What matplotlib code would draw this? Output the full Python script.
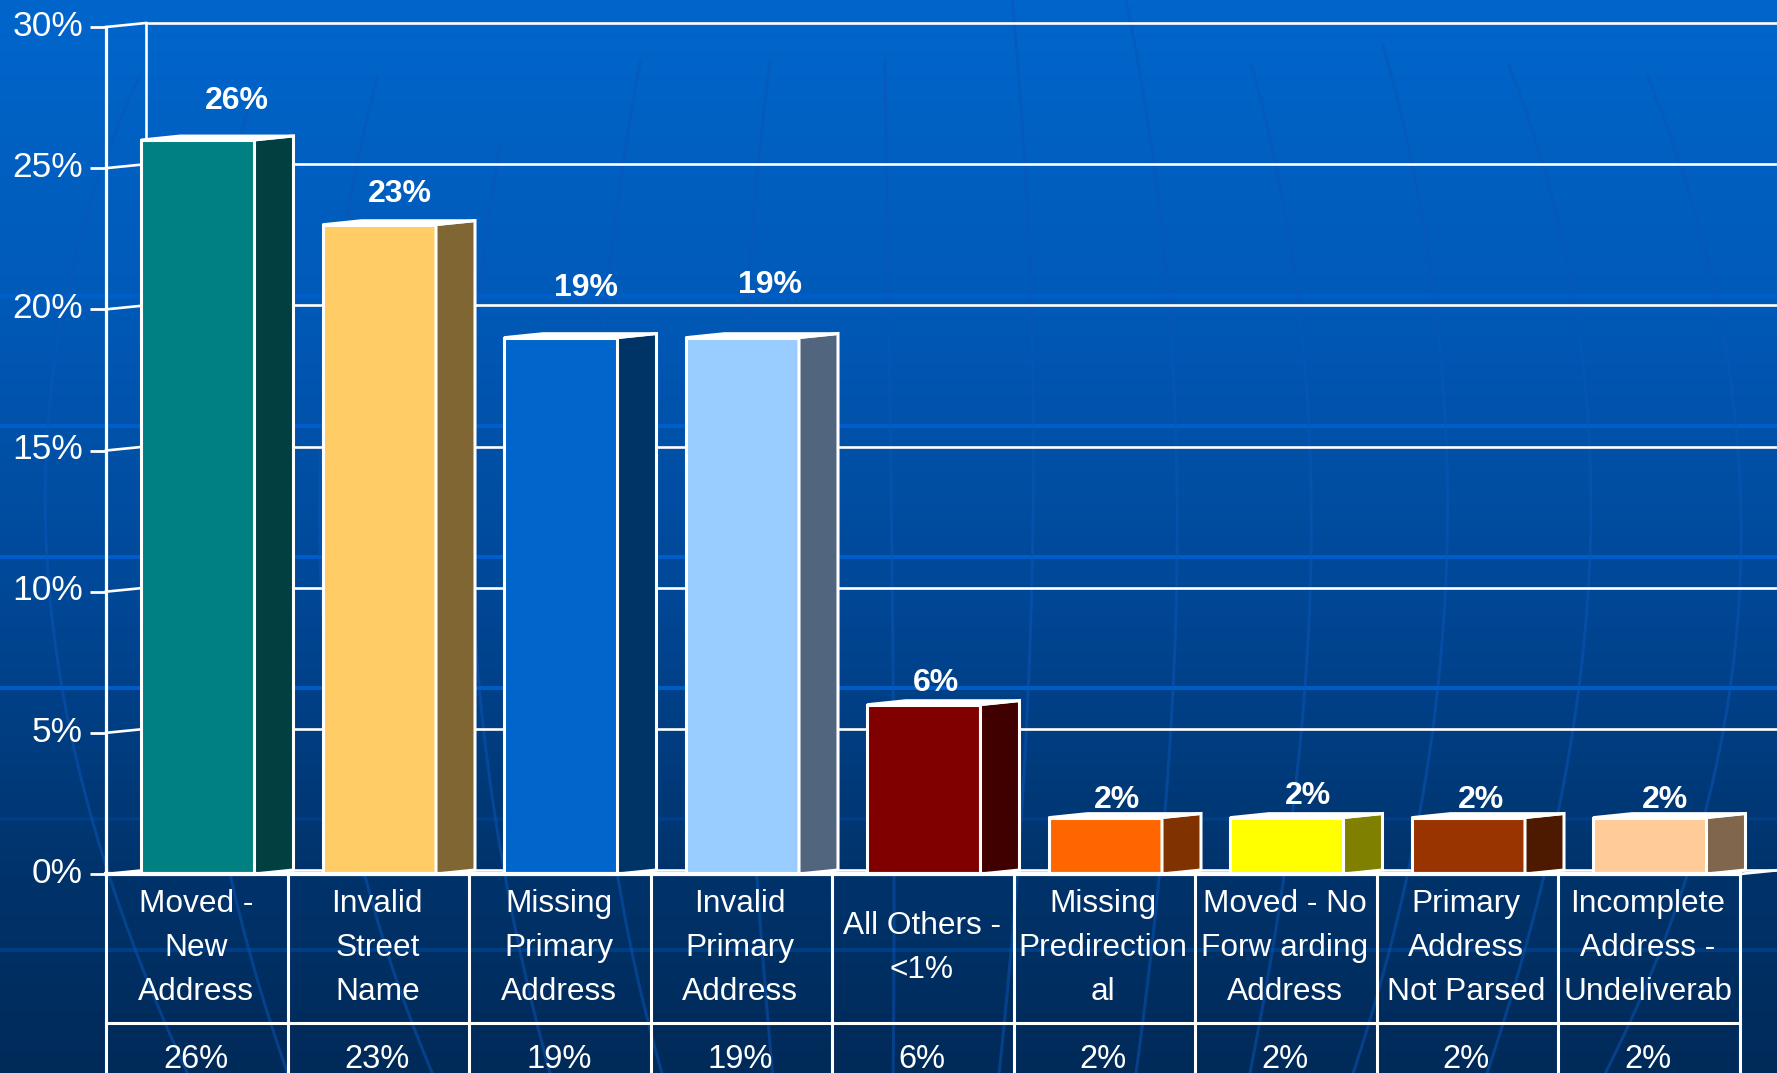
import numpy as np
import matplotlib
matplotlib.use("Agg")
import matplotlib.pyplot as plt
from matplotlib.patches import Polygon
from matplotlib.transforms import ScaledTranslation

W, H = 1777, 1073

categories = [
    "Moved -\nNew\nAddress", "Invalid\nStreet\nName", "Missing\nPrimary\nAddress",
    "Invalid\nPrimary\nAddress", "All Others -\n<1%", "Missing\nPredirection\nal",
    "Moved - No\nForw arding\nAddress", "Primary\nAddress\nNot Parsed",
    "Incomplete\nAddress -\nUndeliverab",
]
values = [26, 23, 19, 19, 6, 2, 2, 2, 2]
front_colors = ["#008080", "#FFCC66", "#0066CC", "#99CCFF", "#800000",
                "#FF6600", "#FFFF00", "#993300", "#FFCC99"]
side_colors = ["#004040", "#806633", "#003366", "#52657F", "#400000",
               "#803300", "#808000", "#4D1A00", "#80664D"]
y_ticks = [0, 5, 10, 15, 20, 25, 30]

# Pixel nudges of the value labels away from each column's top centre
label_dx = [39, 21, 25, 28, 12, 12, 21, 13, 15]
label_dy = [39, 31, 50, 53, 22, 18, 22, 18, 18]

plt.rcParams["font.family"] = ["Liberation Sans", "DejaVu Sans"]
fig = plt.figure(figsize=(W / 100, H / 100), dpi=100)

# Slide backdrop: vertical gradient, horizontal bands, globe meridians
bg = fig.add_axes([0, 0, 1, 1], zorder=0)
bg.set_xlim(0, W)
bg.set_ylim(H, 0)
bg.axis("off")
stops_y = [0, 300, 600, 874, 1073]
stops_g = [0x66, 0x5A, 0x47, 0x33, 0x2A]
stops_b = [0xCC, 0xB8, 0x96, 0x6B, 0x58]
rows = np.arange(H)
grad = np.stack([np.zeros(H), np.interp(rows, stops_y, stops_g), np.interp(rows, stops_y, stops_b)], axis=1) / 255
bg.imshow(grad[:, None, :], extent=[0, W, H, 0], aspect="auto", zorder=0)

bands = [(36, 0.2), (166, 0.3), (296, 0.8), (426, 0.9), (557, 0.9), (688, 0.9), (819, 0.2), (950, 0.3)]
for yb, a in bands:
    bg.axhline(yb, color="#0060D0", alpha=a, lw=2.8, zorder=1)

meridians = [
    [(140, 77), (100, 170), (67, 293), (45, 497), (60, 669), (93, 822), (160, 1019), (190, 1073)],
    [(250, 100), (210, 300), (190, 500), (200, 700), (233, 880), (287, 1073)],
    [(377, 77), (347, 217), (320, 500), (330, 700), (367, 880), (432, 1073)],
    [(500, 143), (483, 267), (470, 500), (490, 780), (543, 1047), (550, 1073)],
    [(640, 60), (600, 400), (590, 700), (625, 880), (660, 1073)],
    [(770, 60), (745, 400), (745, 700), (759, 880), (772, 1073)],
    [(885, 60), (890, 400), (893, 800), (895, 880), (893, 1073)],
    [(1012, 0), (1032, 306), (1032, 510), (1023, 800), (999, 1073)],
    [(1126, 0), (1175, 408), (1177, 535), (1166, 800), (1136, 1073)],
    [(1252, 66), (1298, 306), (1312, 485), (1300, 740), (1250, 1073)],
    [(1383, 46), (1429, 255), (1446, 434), (1443, 612), (1423, 800), (1353, 1073)],
    [(1509, 66), (1572, 286), (1589, 434), (1589, 561), (1561, 800), (1487, 1073)],
    [(1647, 76), (1715, 286), (1738, 444), (1738, 561), (1710, 800), (1605, 1073)],
]
for curve in meridians:
    cx, cy = np.array(curve, dtype=float).T
    yy = np.linspace(cy[0], cy[-1], 120)
    xx = np.polyval(np.polyfit(cy, cx, 3), yy)
    bg.plot(xx, yy, color="#0A56B8", alpha=0.5, lw=2.2, zorder=1)

# Chart plane: x in category units, y in percent
left, right = 106.0, 1739.5
y0_px, y30_px = 874.0, 27.0
ax = fig.add_axes([left / W, 1 - y0_px / H, (right - left) / W, (y0_px - y30_px) / H], zorder=1)
ax.patch.set_visible(False)
ax.set_xlim(0, len(values))
ax.set_ylim(0, 30)
for s in ax.spines.values():
    s.set_visible(False)

unit_x = (right - left) / len(values)
unit_y = (y0_px - y30_px) / 30
depth_x = 40 / unit_x
depth_y = 4 / unit_y
far_x = (W + 5 - left) / unit_x
LINE = dict(color="white", lw=1.9, clip_on=False, solid_capstyle="projecting")

# Back wall gridlines and their side-wall connectors
for v in y_ticks:
    ax.plot([depth_x, far_x], [v + depth_y] * 2, zorder=1, **LINE)
    ax.plot([0, depth_x], [v, v + depth_y], zorder=1, **LINE)
ax.plot([depth_x, depth_x], [depth_y, 30 + depth_y], zorder=1, **LINE)
ax.plot([0, 0], [30, 0], zorder=1, color="white", lw=2.3, clip_on=False)
ax.plot([0, len(values)], [0, 0], zorder=6, color="white", lw=3, clip_on=False)
ax.plot([len(values), len(values) + depth_x], [0, depth_y], zorder=6, color="white", lw=2, clip_on=False)

# Extruded columns
bar_w = 113.5 / unit_x
side_w = 39 / unit_x
for i, (v, fc, sc) in enumerate(zip(values, front_colors, side_colors)):
    x1 = i + 0.5 - bar_w / 2 + 1 / unit_x
    x2 = x1 + bar_w
    x3 = x2 + side_w
    d = depth_y
    ax.add_patch(Polygon([(x1, 0), (x2, 0), (x2, v), (x1, v)], fc=fc, ec="white", lw=2.2, zorder=4, clip_on=False))
    ax.add_patch(Polygon([(x2, 0), (x3, d), (x3, v + d), (x2, v)], fc=sc, ec="white", lw=2.2, zorder=4, clip_on=False))
    ax.add_patch(Polygon([(x1, v), (x1 + side_w, v + d), (x3, v + d), (x2, v)], fc="white", ec="white", lw=2, zorder=4, clip_on=False))
    ax.annotate(f"{v}%", xy=((x1 + x2) / 2, v), xytext=(label_dx[i] * 0.72, label_dy[i] * 0.72),
                textcoords="offset points", color="white", fontsize=23, fontweight="bold",
                ha="center", va="center", zorder=7, annotation_clip=False)

# Percent axis
ax.set_yticks(y_ticks)
ax.set_yticklabels([f"{v}%" for v in y_ticks], color="white", fontsize=25.5)
ax.tick_params(axis="y", length=11.5, width=2.0, color="white", pad=5)
ax.set_xticks([])
lift = ScaledTranslation(0, 3 / 72, fig.dpi_scale_trans)
for lab in ax.get_yticklabels():
    lab.set_transform(lab.get_transform() + lift)

# Data table beneath the columns
row1 = -(1023 - y0_px) / unit_y
row2 = -(1100 - y0_px) / unit_y
for k in range(len(values) + 1):
    ax.plot([k, k], [0, row2], color="white", lw=2.2, clip_on=False, zorder=6)
ax.plot([0, len(values)], [row1, row1], color="white", lw=2.2, clip_on=False, zorder=6)
for i, (c, v) in enumerate(zip(categories, values)):
    ax.text(i + 0.5 - 1 / unit_x, row1 / 2 + 0.02, c, color="white", fontsize=22.8, ha="center", va="center",
            linespacing=1.6, zorder=7, clip_on=False)
    ax.text(i + 0.5 - 1 / unit_x, row1 - 1.3, f"{v}%", color="white", fontsize=23.5, ha="center", va="center",
            zorder=7, clip_on=False)

fig.savefig("out.png", dpi=100)
